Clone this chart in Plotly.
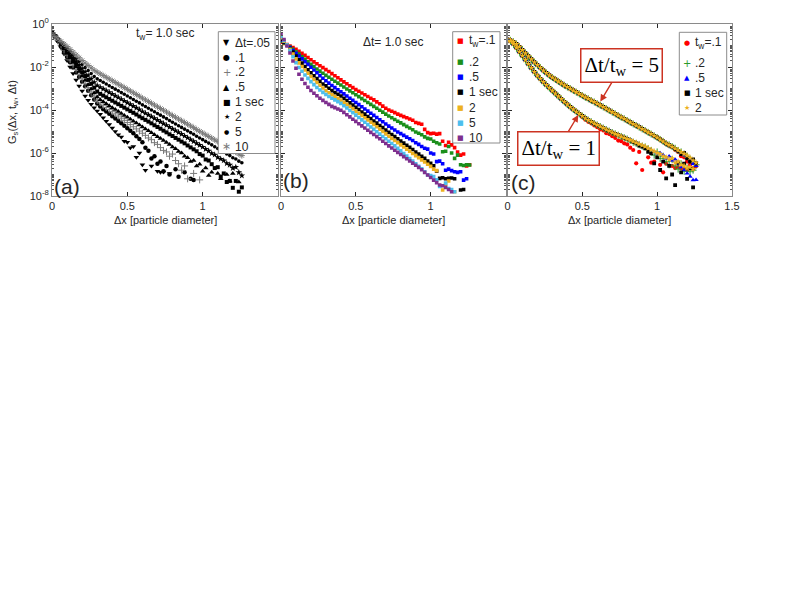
import plotly.graph_objects as go

# ---------------- data (log10 of G_s) ----------------
DX = [0.0, 0.02, 0.04, 0.06, 0.08, 0.1, 0.12, 0.14, 0.16, 0.18,
      0.2, 0.22, 0.24, 0.26, 0.28, 0.3, 0.32, 0.34, 0.36, 0.38,
      0.4, 0.42, 0.44, 0.46, 0.48, 0.5, 0.52, 0.54, 0.56, 0.58,
      0.6, 0.62, 0.64, 0.66, 0.68, 0.7, 0.72, 0.74, 0.76, 0.78,
      0.8, 0.82, 0.84, 0.86, 0.88, 0.9, 0.92, 0.94, 0.96, 0.98,
      1.0, 1.02, 1.04, 1.06, 1.08, 1.1, 1.12, 1.14, 1.16, 1.18,
      1.2, 1.22, 1.24, 1.26]

# panel (a): t_w = 1.0 sec, various dt
A_DT_005 = [-0.35,-0.55,-0.82,-1.10,-1.40,-1.70,-2.00,-2.30,-2.60,-2.88,
            -3.12,-3.35,-3.55,-3.73,-3.90,-4.05,-4.20,-4.36,-4.52,-4.68,
            -4.84,-5.00,-5.15,-5.25,-5.45,-5.50,-5.75,-5.70,-6.20,-6.00,
            -6.55,-6.80,None,-6.60,None,-6.85,-6.90,-6.88,None,-6.95]
A_DT_01 = [-0.38,-0.56,-0.79,-1.04,-1.29,-1.54,-1.78,-2.02,-2.25,-2.47,
           -2.69,-2.90,-3.11,-3.31,-3.51,-3.70,-3.84,-3.96,-4.07,-4.18,
           -4.29,-4.40,-4.51,-4.62,-4.73,-4.85,-4.96,-5.08,-5.22,-5.35,
           -5.50,-5.75,-5.90,-6.25,-6.15,-6.50,-6.40,-6.85,-6.60,-7.00,
           None,-6.75,-7.10,None,-6.90,None,-7.20,-7.25]
A_DT_02 = [-0.40,-0.55,-0.76,-0.98,-1.21,-1.44,-1.67,-1.90,-2.12,-2.34,
           -2.55,-2.76,-2.96,-3.16,-3.35,-3.54,-3.67,-3.78,-3.88,-3.98,
           -4.08,-4.18,-4.28,-4.38,-4.48,-4.58,-4.68,-4.78,-4.88,-4.98,
           -5.08,-5.18,-5.30,-5.38,-5.52,-5.60,-5.75,-5.88,-5.95,-6.15,
           -6.05,-6.35,-6.50,-6.80,-6.60,-7.20,None,-6.95,None,-7.25]
A_DT_05 = [-0.42,-0.56,-0.75,-0.95,-1.16,-1.37,-1.58,-1.79,-2.00,-2.21,
           -2.42,-2.62,-2.82,-3.02,-3.21,-3.40,-3.52,-3.62,-3.71,-3.80,
           -3.89,-3.98,-4.07,-4.16,-4.25,-4.34,-4.43,-4.52,-4.61,-4.70,
           -4.79,-4.88,-4.97,-5.06,-5.15,-5.24,-5.33,-5.42,-5.51,-5.60,
           -5.72,-5.80,-5.93,-6.00,-6.15,-6.22,-6.40,-6.35,-6.60,-6.52,
           -6.85,-6.70,-7.05,-6.90,None,-6.95,-7.20,None,-7.00,-7.30,
           -6.95,None,-7.35]
A_DT_1 = [-0.44,-0.57,-0.74,-0.92,-1.11,-1.30,-1.49,-1.68,-1.87,-2.06,
          -2.24,-2.42,-2.60,-2.78,-2.96,-3.14,-3.25,-3.33,-3.41,-3.49,
          -3.57,-3.65,-3.73,-3.81,-3.89,-3.97,-4.05,-4.13,-4.21,-4.30,
          -4.38,-4.46,-4.54,-4.62,-4.71,-4.79,-4.87,-4.96,-5.04,-5.13,
          -5.21,-5.30,-5.38,-5.47,-5.55,-5.65,-5.74,-5.83,-5.92,-6.05,
          -6.12,-6.30,-6.35,-6.52,-6.70,-6.66,-7.10,-6.95,-7.35,-7.30,
          -7.62,-7.30,-7.80,-7.60]
A_DT_2 = [-0.46,-0.58,-0.73,-0.89,-1.06,-1.23,-1.40,-1.57,-1.74,-1.91,
          -2.07,-2.23,-2.39,-2.55,-2.71,-2.86,-2.94,-3.02,-3.10,-3.18,
          -3.26,-3.34,-3.42,-3.50,-3.58,-3.66,-3.74,-3.82,-3.90,-3.98,
          -4.07,-4.15,-4.23,-4.31,-4.39,-4.47,-4.55,-4.63,-4.71,-4.80,
          -4.88,-4.96,-5.04,-5.12,-5.21,-5.29,-5.38,-5.46,-5.55,-5.63,
          -5.72,-5.82,-5.90,-6.02,-6.08,-6.20,-6.28,-6.35,-6.48,-6.55,
          -6.70,-6.66,-6.90,-7.05]
A_DT_5 = [-0.48,-0.58,-0.71,-0.85,-0.99,-1.14,-1.29,-1.44,-1.59,-1.74,
          -1.88,-2.02,-2.16,-2.30,-2.44,-2.55,-2.63,-2.71,-2.79,-2.87,
          -2.95,-3.03,-3.11,-3.19,-3.27,-3.35,-3.43,-3.51,-3.59,-3.67,
          -3.76,-3.84,-3.92,-4.00,-4.08,-4.16,-4.24,-4.32,-4.40,-4.49,
          -4.57,-4.65,-4.73,-4.81,-4.89,-4.97,-5.05,-5.13,-5.22,-5.30,
          -5.38,-5.46,-5.54,-5.62,-5.71,-5.79,-5.88,-5.95,-6.05,-6.12,
          -6.22,-6.28,-6.38,-6.45]
A_DT_10 = [-0.50,-0.59,-0.70,-0.81,-0.93,-1.05,-1.18,-1.31,-1.44,-1.57,
           -1.70,-1.82,-1.93,-2.04,-2.15,-2.24,-2.32,-2.40,-2.48,-2.56,
           -2.64,-2.72,-2.80,-2.88,-2.96,-3.04,-3.12,-3.20,-3.28,-3.36,
           -3.45,-3.53,-3.61,-3.69,-3.77,-3.85,-3.93,-4.01,-4.09,-4.18,
           -4.26,-4.34,-4.42,-4.50,-4.58,-4.66,-4.74,-4.82,-4.91,-4.99,
           -5.07,-5.15,-5.23,-5.31,-5.39,-5.47,-5.55,-5.64,-5.72,-5.80,
           -5.88,-5.96,-6.04,-6.12]

# panel (b): dt = 1.0 sec, various t_w
B_TW_01 = [-0.85,-0.90,-0.96,-1.03,-1.10,-1.18,-1.27,-1.36,-1.46,-1.56,
           -1.66,-1.76,-1.85,-1.94,-2.03,-2.12,-2.21,-2.31,-2.41,-2.50,
           -2.60,-2.69,-2.78,-2.87,-2.96,-3.05,-3.13,-3.21,-3.29,-3.37,
           -3.45,-3.53,-3.62,-3.71,-3.82,-3.92,-4.00,-4.06,-4.12,-4.19,
           -4.25,-4.31,-4.36,-4.42,-4.48,-4.58,-4.62,-4.66,-4.90,-5.05,
           -5.10,-5.08,-5.12,-5.10,-5.45,-5.65,-5.50,-5.62,-5.75,-5.95,
           -6.10,-6.05,-6.60,-6.55]
B_TW_02 = [-0.80,-0.88,-0.97,-1.07,-1.18,-1.29,-1.40,-1.52,-1.64,-1.76,
           -1.87,-1.98,-2.09,-2.19,-2.29,-2.39,-2.48,-2.57,-2.66,-2.75,
           -2.84,-2.93,-3.02,-3.11,-3.20,-3.29,-3.38,-3.47,-3.56,-3.65,
           -3.74,-3.83,-3.92,-4.01,-4.10,-4.19,-4.28,-4.36,-4.44,-4.52,
           -4.60,-4.68,-4.76,-4.84,-4.92,-5.02,-5.08,-5.15,-5.25,-5.32,
           -5.35,-5.45,-5.52,-5.58,-5.94,-5.92,-5.70,-6.00,-6.25,-6.10,
           -6.55,-6.58,-6.55,-6.56]
B_TW_05 = [-0.75,-0.85,-0.97,-1.10,-1.23,-1.36,-1.49,-1.62,-1.75,-1.88,
           -2.01,-2.14,-2.27,-2.40,-2.52,-2.64,-2.75,-2.86,-2.96,-3.06,
           -3.15,-3.25,-3.35,-3.45,-3.55,-3.65,-3.75,-3.85,-3.95,-4.05,
           -4.15,-4.25,-4.35,-4.45,-4.55,-4.65,-4.75,-4.84,-4.93,-5.02,
           -5.10,-5.18,-5.26,-5.34,-5.42,-5.52,-5.60,-5.70,-5.78,-5.82,
           -6.00,-6.05,-6.40,-6.38,-6.50,-6.80,-6.75,-6.82,-6.87,-6.90,
           -6.87,-7.26,-7.20]
B_TW_1 = [-0.72,-0.84,-0.98,-1.14,-1.31,-1.49,-1.66,-1.82,-1.98,-2.13,
          -2.27,-2.41,-2.54,-2.67,-2.79,-2.88,-2.99,-3.10,-3.19,-3.27,
          -3.35,-3.46,-3.56,-3.67,-3.77,-3.88,-3.98,-4.09,-4.19,-4.30,
          -4.40,-4.51,-4.61,-4.72,-4.82,-4.93,-5.04,-5.14,-5.24,-5.34,
          -5.44,-5.54,-5.64,-5.74,-5.84,-5.95,-6.05,-6.15,-6.25,-6.38,
          -6.48,-6.60,-6.85,-7.18,-7.15,-7.20,-7.18,-7.16,-7.20,None,
          -7.72,-7.70]
B_TW_2 = [-0.65,-0.80,-0.98,-1.18,-1.40,-1.62,-1.81,-1.98,-2.14,-2.29,
          -2.44,-2.58,-2.72,-2.85,-2.98,-3.10,-3.20,-3.29,-3.38,-3.46,
          -3.54,-3.64,-3.74,-3.84,-3.94,-4.05,-4.15,-4.25,-4.36,-4.46,
          -4.57,-4.67,-4.78,-4.89,-5.00,-5.11,-5.22,-5.32,-5.42,-5.52,
          -5.62,-5.72,-5.82,-5.92,-6.02,-6.12,-6.22,-6.32,-6.42,-6.52,
          -6.62,-6.75,-6.82,None,-7.72,-7.45,-7.30,None,-7.80]
B_TW_5 = [-0.58,-0.76,-0.98,-1.23,-1.52,-1.80,-2.02,-2.20,-2.37,-2.53,
          -2.68,-2.82,-2.95,-3.07,-3.18,-3.28,-3.37,-3.45,-3.53,-3.61,
          -3.69,-3.80,-3.91,-4.02,-4.13,-4.24,-4.35,-4.46,-4.57,-4.68,
          -4.79,-4.90,-5.01,-5.12,-5.23,-5.34,-5.45,-5.56,-5.67,-5.78,
          -5.90,-6.02,-6.14,-6.26,-6.38,-6.50,-6.62,-6.74,-6.88,-7.02,
          -7.05,-7.10,-7.25,-7.55,None,-7.40,-7.65,-7.70,-7.80]
B_TW_10 = [-0.48,-0.72,-1.02,-1.35,-1.72,-2.06,-2.34,-2.57,-2.77,-2.94,
           -3.09,-3.22,-3.34,-3.45,-3.55,-3.65,-3.74,-3.83,-3.89,-3.95,
           -4.01,-4.11,-4.22,-4.32,-4.43,-4.53,-4.64,-4.74,-4.84,-4.94,
           -5.04,-5.14,-5.24,-5.34,-5.45,-5.56,-5.67,-5.77,-5.87,-5.97,
           -6.07,-6.17,-6.27,-6.37,-6.47,-6.57,-6.67,-6.78,-6.90,-7.02,
           -7.14,-7.26,-7.38,-7.49,-7.52,-7.60,-7.70,-7.80]

# panel (c): collapsed curves, dt/t_w = 5 (upper) and dt/t_w = 1 (lower)
C_UP_MAIN = [-0.72,-0.76,-0.83,-0.93,-1.06,-1.21,-1.36,-1.50,-1.64,-1.78,
             -1.91,-2.04,-2.16,-2.28,-2.39,-2.49,-2.58,-2.67,-2.76,-2.85,
             -2.93,-3.01,-3.09,-3.17,-3.25,-3.33,-3.41,-3.48,-3.56,-3.63,
             -3.71,-3.78,-3.86,-3.94,-4.02,-4.10,-4.18,-4.26,-4.34,-4.41,
             -4.49,-4.57,-4.65,-4.72,-4.80,-4.88,-4.96,-5.04,-5.12,-5.20,
             -5.28,-5.37,-5.46,-5.56]
C_LO_MAIN = [-0.74,-0.80,-0.93,-1.10,-1.29,-1.48,-1.67,-1.86,-2.05,-2.23,
             -2.40,-2.55,-2.70,-2.84,-2.97,-3.10,-3.23,-3.36,-3.49,-3.62,
             -3.74,-3.86,-3.97,-4.08,-4.18]
C_LO_MID = [-4.28,-4.38,-4.47,-4.55,-4.63,-4.70,-4.77,-4.84,-4.91,-4.98,
            -5.05,-5.11,-5.17,-5.23,-5.29,-5.35]
C_TW_01_UP = [-5.65,-5.72,-5.85,-5.95,-6.15,-6.20,-6.40,-6.55,-6.70,-6.62]
C_TW_01_LO = [-4.33,-4.45,-4.55,-4.62,-4.72,-4.80,-4.90,-4.95,-5.08,-5.12,
              -5.22,-5.30,-5.42,-5.45,-5.55,-5.60,-5.75,-5.86,-6.48,-5.95,
              -6.79,None,-6.20,-6.45,-6.40,None,-6.55,-6.90,-6.50,None,
              -6.60,-6.70,-6.65,-6.72,-6.71,-6.80,-6.68,-6.75]
C_TW_02_UP = [-5.62,-5.70,-5.78,-5.88,-5.95,-6.05,-6.15,-6.30,-6.40,-6.55]
C_TW_02_LO = [-5.42,-5.50,-5.55,-5.62,-5.68,-5.72,-5.80,-5.88,-6.10,-5.95,
              -6.25,-6.15,-6.40,-6.55,-6.30,-6.60,-6.75,-6.50,-6.85,-6.70,
              -6.87,-6.80]
C_TW_05_UP = [-5.65,-5.72,-5.80,-5.92,-6.02,-6.10,-6.20,-6.35,-6.50,-6.60]
C_TW_05_LO = [-5.40,-5.47,-5.52,-5.58,-5.65,-5.72,-5.80,-5.86,-5.95,-6.02,
              -6.00,-6.10,-6.25,-6.15,-6.35,-6.30,-6.50,-6.65,-6.80,-6.95,
              -7.10,-7.26,-7.25]
C_TW_1_UP = [-5.64,-5.70,-5.82,-5.90,-6.05,-6.00,-6.25,-6.40,-6.30,-6.48]
C_TW_1_LO = [-5.41,-5.48,-5.55,-5.65,-5.70,-5.78,-5.95,-6.02,-6.48,-6.20,
             -6.79,-6.40,-7.18,-6.60,-7.00,-7.49,-6.45,-6.90,-6.50,-7.20,
             -6.70,-7.60]
C_TW_2_UP = [-5.63,-5.71,-5.79,-5.87,-5.96,-6.04,-6.12,-6.22,-6.35,-6.45]
C_TW_2_LO = [-5.40,-5.46,-5.52,-5.58,-5.64,-5.70,-5.78,-5.85,-5.92,-6.00,
             -6.05,-6.15,-6.20,-6.30,-6.25,-6.45,-6.40,-6.55,-6.60,-6.70,
             -6.65,-6.75]

Y_TICK_VALS = [1e-8, 1e-6, 1e-4, 1e-2, 1.0]
Y_TICK_LABELS = ["10<sup>-8</sup>", "10<sup>-6</sup>", "10<sup>-4</sup>",
                 "10<sup>-2</sup>", "10<sup>0</sup>"]
LEG_A = ["Δt=.05", ".1", ".2", ".5", "1 sec", "2", "5", "10"]
LEG_B = ["t<sub>w</sub>=.1", ".2", ".5", "1 sec", "2", "5", "10"]
LEG_C = ["t<sub>w</sub>=.1", ".2", ".5", "1 sec", "2"]


def series(vals):
    xs = DX[:len(vals)]
    ys = [None if v is None else 10 ** v for v in vals]
    return xs, ys


def two_branch(up, lo):
    x1, y1 = series(up)
    x2, y2 = series(lo)
    return x1 + x2, y1 + y2


W, H = 789, 610
FONT = "Liberation Sans, Arial, sans-serif"
INK = "#262626"
fig = go.Figure()

# ---------- panel (a)   (marker style, legend glyph, glyph size, colour)
STY_A = [
    (dict(symbol="triangle-down", size=5, color="black"), "▼", 8, "black"),
    (dict(symbol="circle", size=4.5, color="black"), "●", 8, "black"),
    (dict(symbol="cross-thin", size=5, color="#7a7a7a", line=dict(color="#7a7a7a", width=1)), "+", 10, "#7a7a7a"),
    (dict(symbol="triangle-up", size=5, color="black"), "▲", 8, "black"),
    (dict(symbol="square", size=4, color="black"), "■", 8, "black"),
    (dict(symbol="star", size=5, color="black"), "★", 7, "black"),
    (dict(symbol="circle", size=3.6, color="black"), "●", 6, "black"),
    (dict(symbol="asterisk", size=5, color="#7a7a7a", line=dict(color="#7a7a7a", width=1)), "∗", 11, "#7a7a7a"),
]
for name, vals, sty in zip(LEG_A, [A_DT_005, A_DT_01, A_DT_02, A_DT_05, A_DT_1, A_DT_2, A_DT_5, A_DT_10], STY_A):
    xs, ys = series(vals)
    fig.add_trace(go.Scatter(x=xs, y=ys, mode="markers", name=name, marker=sty[0],
                             xaxis="x", yaxis="y", showlegend=False))

# ---------- panel (b)
COL_B = ["#ff0000", "#1b8f1b", "#0000ff", "#000000", "#edb120", "#4dbeee", "#7e2f8e"]
for name, vals, col in zip(LEG_B, [B_TW_01, B_TW_02, B_TW_05, B_TW_1, B_TW_2, B_TW_5, B_TW_10], COL_B):
    xs, ys = series(vals)
    fig.add_trace(go.Scatter(x=xs, y=ys, mode="markers", name=name,
                             marker=dict(symbol="square", size=3.6, color=col),
                             xaxis="x2", yaxis="y2", showlegend=False))

# ---------- panel (c)
STY_C = [
    (dict(symbol="circle", size=4.2, color="#ff0000"), "●", 7, "#ff0000"),
    (dict(symbol="cross-thin", size=5, color="#2a9a2a", line=dict(color="#2a9a2a", width=1)), "+", 10, "#2a9a2a"),
    (dict(symbol="triangle-up", size=4.6, color="#0000ff"), "▲", 7, "#0000ff"),
    (dict(symbol="square", size=3.8, color="#000000"), "■", 7, "#000000"),
    (dict(symbol="star", size=4.8, color="#edb120"), "★", 7, "#edb120"),
]
C_SETS = [
    (C_UP_MAIN + C_TW_01_UP, C_LO_MAIN + C_TW_01_LO),
    (C_UP_MAIN + C_TW_02_UP, C_LO_MAIN + C_LO_MID + C_TW_02_LO),
    (C_UP_MAIN + C_TW_05_UP, C_LO_MAIN + C_LO_MID + C_TW_05_LO),
    (C_UP_MAIN + C_TW_1_UP, C_LO_MAIN + C_LO_MID + C_TW_1_LO),
    (C_UP_MAIN + C_TW_2_UP, C_LO_MAIN + C_LO_MID + C_TW_2_LO),
]
for name, (up, lo), sty in zip(LEG_C, C_SETS, STY_C):
    xs, ys = two_branch(up, lo)
    fig.add_trace(go.Scatter(x=xs, y=ys, mode="markers", name=name, marker=sty[0],
                             xaxis="x3", yaxis="y3", showlegend=False))

# ---------- axes
Y0, Y1 = 1 - 196 / H, 1 - 24 / H
doms = [(52 / W, 278 / W), (281 / W, 505.5 / W), (507.5 / W, 732 / W)]
minor_y = [m * 10.0 ** (-k) for k in range(8, 0, -1) for m in range(1, 10)
           if not (m == 1 and k % 2 == 0)]

for i, (d0, d1) in enumerate(doms):
    sfx = "" if i == 0 else str(i + 1)
    xv = [0, 0.5, 1, 1.5] if i == 2 else [0, 0.5, 1]
    xt = ["0", "0.5", "1", "1.5"] if i == 2 else ["0", "0.5", "1"]
    fig.update_layout(**{
        "xaxis" + sfx: dict(domain=[d0, d1], anchor="y" + sfx, range=[0, 1.5],
                            tickmode="array", tickvals=xv, ticktext=xt,
                            ticks="inside", ticklen=4, tickcolor=INK, tickwidth=0.8,
                            showline=True, linecolor="#8a8a8a", linewidth=1, mirror="ticks",
                            showgrid=False, zeroline=False, automargin=False,
                            tickfont=dict(size=11, color=INK, family=FONT)),
        "yaxis" + sfx: dict(domain=[Y0, Y1], anchor="x" + sfx, type="log", range=[-8, 0],
                            tickmode="array", tickvals=Y_TICK_VALS, ticktext=Y_TICK_LABELS,
                            showticklabels=(i == 0),
                            ticks="inside", ticklen=4, tickcolor=INK, tickwidth=0.8,
                            minor=dict(tickmode="array", tickvals=minor_y, ticks="inside",
                                       ticklen=2, tickcolor="#555555", tickwidth=0.6,
                                       showgrid=False),
                            showline=True, linecolor="#8a8a8a", linewidth=1, mirror="ticks",
                            showgrid=False, zeroline=False, automargin=False,
                            tickfont=dict(size=11, color=INK, family=FONT)),
    })

# ---------- legends (boxes + glyph + label, one per panel)
shapes = []
ann = []
legend_specs = [
    # box (x0, x1, y0, y1), glyph x, text x, row centres
    ((218.3, 275.0, 31.7, 153.5), 226.7, 233.0,
     [42.7, 57.6, 72.4, 87.2, 102.0, 116.9, 131.7, 146.5], LEG_A, STY_A),
    ((452.7, 500.0, 31.7, 143.0), 460.0, 466.5,
     [41.0, 62.0, 77.2, 92.4, 107.6, 122.8, 138.0], LEG_B,
     [(None, "■", 7, c) for c in COL_B]),
    ((679.3, 726.7, 32.3, 115.0), 687.3, 693.3,
     [43.3, 63.3, 78.0, 93.0, 108.3], LEG_C, STY_C),
]
for (bx0, bx1, by0, by1), gx, tx, rows, labels, stys in legend_specs:
    shapes.append(dict(type="rect", xref="paper", yref="paper", layer="above",
                       x0=bx0 / W, x1=bx1 / W, y0=1 - by1 / H, y1=1 - by0 / H,
                       line=dict(color="#8c8c8c", width=1), fillcolor="white"))
    for ry, lab, sty in zip(rows, labels, stys):
        ann.append(dict(x=gx / W, y=1 - ry / H, xref="paper", yref="paper", showarrow=False,
                        xanchor="center", yanchor="middle", text=sty[1],
                        font=dict(size=sty[2], color=sty[3], family="DejaVu Sans")))
        ann.append(dict(x=tx / W, y=1 - ry / H, xref="paper", yref="paper", showarrow=False,
                        xanchor="left", yanchor="middle", text=lab,
                        font=dict(size=12, color=INK, family=FONT)))

# ---------- other text
for cx in [165, 393, 619.5]:
    ann.append(dict(x=cx / W, y=1 - 220 / H, xref="paper", yref="paper", showarrow=False,
                    xanchor="center", yanchor="middle",
                    text="Δx [particle diameter]", font=dict(size=11, color=INK)))
ann.append(dict(x=13 / W, y=1 - 112 / H, xref="paper", yref="paper", showarrow=False,
                xanchor="center", yanchor="middle",
                textangle=-90, text="G<sub>s</sub>(Δx, t<sub>w</sub>, Δt)",
                font=dict(size=11, color=INK)))
ann.append(dict(x=165 / W, y=1 - 34 / H, xref="paper", yref="paper", showarrow=False,
                xanchor="center", yanchor="middle",
                text="t<sub>w</sub>= 1.0 sec", font=dict(size=12, color=INK)))
ann.append(dict(x=393 / W, y=1 - 42 / H, xref="paper", yref="paper", showarrow=False,
                xanchor="center", yanchor="middle",
                text="Δt= 1.0 sec", font=dict(size=12, color=INK)))
for lab, px, py in [("(a)", 67, 187), ("(b)", 296, 180), ("(c)", 523, 182)]:
    ann.append(dict(x=px / W, y=1 - py / H, xref="paper", yref="paper", showarrow=False,
                    xanchor="center", yanchor="middle",
                    text=lab, font=dict(size=21, color=INK)))
SERIF = "Liberation Serif, DejaVu Serif, serif"
ann.append(dict(x=0.62, y=-3.61, xref="x3", yref="y3", text="Δt/t<sub>w</sub> = 5",
                showarrow=True, ax=21.5, ay=-35.7, arrowhead=2, arrowsize=1, arrowwidth=1.4,
                arrowcolor="#cc3322", bordercolor="#cc3322", borderwidth=1.5, borderpad=3,
                bgcolor="white", font=dict(family=SERIF, size=21, color="black")))
ann.append(dict(x=0.473, y=-4.23, xref="x3", yref="y3", text="Δt/t<sub>w</sub> = 1",
                showarrow=True, ax=-20, ay=33.5, arrowhead=2, arrowsize=1, arrowwidth=1.4,
                arrowcolor="#cc3322", bordercolor="#cc3322", borderwidth=1.5, borderpad=3,
                bgcolor="white", font=dict(family=SERIF, size=21, color="black")))

fig.update_layout(width=W, height=H, margin=dict(l=0, r=0, t=0, b=0),
                  paper_bgcolor="white", plot_bgcolor="white",
                  font=dict(family=FONT, size=11, color=INK), annotations=ann,
                  shapes=shapes, showlegend=False)

fig.write_html("out.html", config={"displayModeBar": False},
               post_script="document.body.style.margin='0';")
